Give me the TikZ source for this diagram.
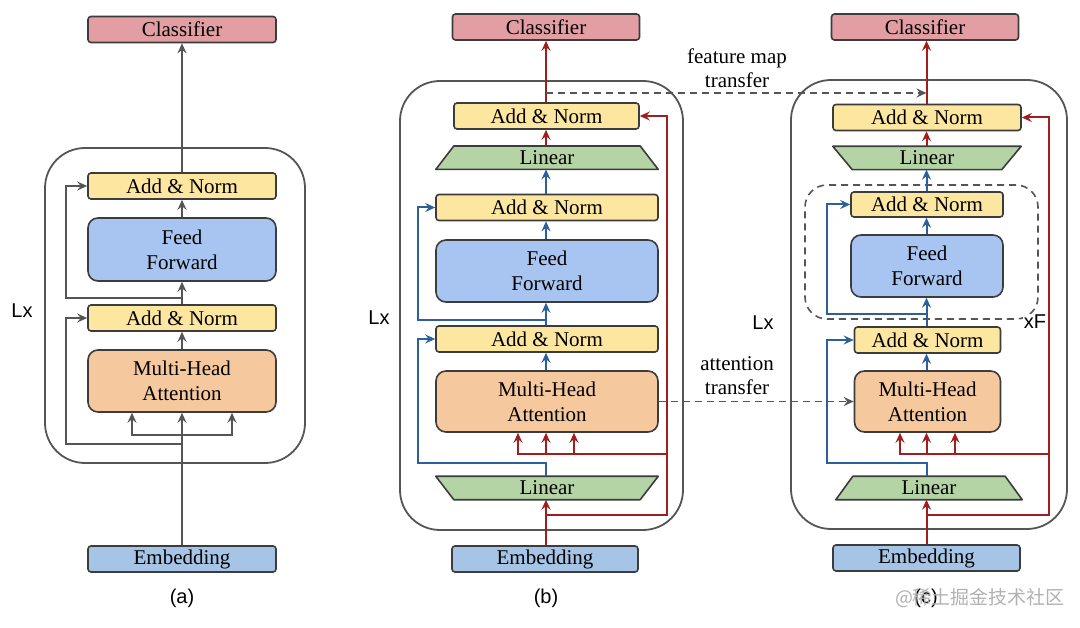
\documentclass[tikz,border=0pt]{standalone}
\usepackage{fontspec}
\setmainfont{Liberation Serif}
\setsansfont{Liberation Sans}
\newfontfamily\cjk{Noto Sans CJK SC}
\usetikzlibrary{arrows.meta,backgrounds,calc}
\definecolor{bordergray}{RGB}{60,60,60}
\definecolor{linegray}{RGB}{85,85,85}
\definecolor{redline}{RGB}{160,30,30}
\definecolor{blueline}{RGB}{45,95,155}
\definecolor{clsfill}{RGB}{226,158,162}
\definecolor{anfill}{RGB}{252,230,160}
\definecolor{fffill}{RGB}{168,196,240}
\definecolor{mhafill}{RGB}{245,200,158}
\definecolor{linfill}{RGB}{180,212,165}
\definecolor{embfill}{RGB}{165,196,230}
\begin{document}
\begin{tikzpicture}[x=1pt,y=-1pt,
  box/.style={draw=bordergray, line width=1.6pt, rounded corners=3pt, inner sep=0pt, align=center,
    font=\fontsize{21}{25}\selectfont},
  thin/.style={box, minimum height=26pt},
  big/.style={box, rounded corners=10pt, minimum height=62pt},
  linnode/.style={inner sep=0pt, minimum height=23pt, font=\fontsize{21}{25}\selectfont},
  trap/.style={draw=bordergray, line width=1.6pt, fill=linfill, line join=round},
  outerbox/.style={draw=linegray, line width=1.8pt, rounded corners=40pt, inner sep=0pt},
  grpbox/.style={draw=linegray, line width=1.6pt, dash pattern=on 7pt off 5pt, rounded corners=22pt, inner sep=0pt},
  tip/.style={-{Stealth[length=10pt,width=9pt,inset=3.5pt]}},
  garr/.style={draw=linegray, line width=2pt, tip},
  rarr/.style={draw=redline, line width=2pt, tip},
  barr/.style={draw=blueline, line width=2pt, tip},
  darr/.style={draw=linegray, line width=1.6pt, dash pattern=on 7pt off 5pt, tip},
  lbl/.style={font=\fontsize{21}{24}\selectfont, align=center, inner sep=0pt},
  slbl/.style={font=\sffamily\fontsize{20}{24}\selectfont, inner sep=0pt}
]
\useasboundingbox (0,0) rectangle (1080,628);
\begin{scope}[on background layer]
\fill[white] (0,0) rectangle (1080,628);
\end{scope}

% ================= (a) =================
\node[outerbox, minimum width=260pt, minimum height=315pt] (aBox) at (175,305.5) {};
\node[thin, fill=clsfill, minimum width=188pt] (aC) at (182,29.5) {Classifier};
\node[thin, fill=anfill, minimum width=188pt] (aAN2) at (182,186) {Add \& Norm};
\node[big, fill=fffill, minimum width=188pt, minimum height=63pt] (aFF) at (182,249.5) {Feed\\Forward};
\node[thin, fill=anfill, minimum width=188pt] (aAN1) at (182,318) {Add \& Norm};
\node[big, fill=mhafill, minimum width=188pt] (aMHA) at (182,381) {Multi-Head\\Attention};
\node[thin, fill=embfill, minimum width=188pt] (aE) at (182,559) {Embedding};
\coordinate (aT) at (182,435);
\coordinate (aR1) at (182,444);
\coordinate (aR2) at (182,298);
\draw[garr] (aE.north) -- (aMHA.south);
\draw[garr] (aT) -| ([xshift=-50pt]aMHA.south);
\draw[garr] (aT) -| ([xshift=50pt]aMHA.south);
\draw[garr] (aR1) -- ++(-116,0) |- (aAN1.west);
\draw[garr] (aMHA.north) -- (aAN1.south);
\draw[garr] (aAN1.north) -- (aFF.south);
\draw[garr] (aR2) -- ++(-116,0) |- (aAN2.west);
\draw[garr] (aFF.north) -- (aAN2.south);
\draw[garr] (aAN2.north) -- (aC.south);
\node[slbl] (aLx) at (22,311) {Lx};
\node[slbl] (aLab) at (182,598) {(a)};

% ================= (b) =================
\node[outerbox, minimum width=283pt, minimum height=449pt] (bBox) at (541.5,305.5) {};
\node[thin, fill=clsfill, minimum width=187pt] (bC) at (546,27) {Classifier};
\node[thin, fill=anfill, minimum width=185pt] (bAN3) at (546.5,116) {Add \& Norm};
\node[linnode, minimum width=222pt] (bL2) at (547,157.7) {Linear};
\node[thin, fill=anfill, minimum width=222pt] (bAN2) at (547,207.5) {Add \& Norm};
\node[big, fill=fffill, minimum width=222pt] (bFF) at (547,271) {Feed\\Forward};
\node[thin, fill=anfill, minimum width=222pt] (bAN1) at (547,339) {Add \& Norm};
\node[big, fill=mhafill, minimum width=222pt, minimum height=61pt] (bMHA) at (547,401.5) {Multi-Head\\Attention};
\node[linnode, minimum width=222pt] (bL1) at (547,488) {Linear};
\node[thin, fill=embfill, minimum width=186pt] (bE) at (545,559) {Embedding};
\begin{scope}[on background layer]
\draw[trap] ([xshift=18pt]bL2.north west) -- ([xshift=-18pt]bL2.north east) -- (bL2.south east) -- (bL2.south west) -- cycle;
\draw[trap] (bL1.north west) -- (bL1.north east) -- ([xshift=-18pt]bL1.south east) -- ([xshift=18pt]bL1.south west) -- cycle;
\end{scope}
\coordinate (bS) at (546,515);
\coordinate (bT) at (667,454);
\coordinate (bB) at (546,463);
\coordinate (bB2) at (546,320);
\draw[rarr] (bE.north -| bS) -- (bL1.south -| bS);
\draw[rarr] (bS) -- ++(121,0) |- (bAN3.east);
\draw[rarr] (bT) -| ([xshift=-28pt]bMHA.south -| bS);
\draw[rarr] (bT) -| (bMHA.south -| bS);
\draw[rarr] (bT) -| ([xshift=28pt]bMHA.south -| bS);
\draw[barr] (bL1.north -| bS) -- (bB) -- ++(-128,0) |- (bAN1.west);
\draw[barr] (bMHA.north -| bS) -- (bAN1.south -| bS);
\draw[barr] (bAN1.north -| bS) -- (bFF.south -| bS);
\draw[barr] (bB2) -- ++(-128,0) |- (bAN2.west);
\draw[barr] (bFF.north -| bS) -- (bAN2.south -| bS);
\draw[barr] (bAN2.north -| bS) -- (bL2.south -| bS);
\draw[rarr] (bL2.north -| bS) -- (bAN3.south -| bS);
\draw[rarr] (bAN3.north -| bS) -- (bC.south -| bS);
\node[slbl] (bLx) at (379,318) {Lx};
\node[slbl] (bLab) at (546,598) {(b)};

% ================= (c) =================
\node[outerbox, minimum width=276pt, minimum height=449pt] (cBox) at (929,304.5) {};
\node[grpbox, minimum width=233pt, minimum height=134pt] (cGrp) at (921.5,252) {};
\node[thin, fill=clsfill, minimum width=187pt] (cC) at (925,27) {Classifier};
\node[thin, fill=anfill, minimum width=188pt] (cAN3) at (927,117.5) {Add \& Norm};
\node[linnode, minimum width=188pt] (cL2) at (927,158) {Linear};
\node[thin, fill=anfill, minimum width=152pt, minimum height=25pt] (cAN2) at (927,204.5) {Add \& Norm};
\node[big, fill=fffill, minimum width=152pt] (cFF) at (927,266) {Feed\\Forward};
\node[thin, fill=anfill, minimum width=146pt] (cAN1) at (927.5,340) {Add \& Norm};
\node[big, fill=mhafill, minimum width=146pt, minimum height=61pt] (cMHA) at (927.5,401.5) {Multi-Head\\Attention};
\node[linnode, minimum width=186pt] (cL1) at (929,488) {Linear};
\node[thin, fill=embfill, minimum width=187pt] (cE) at (926.5,558) {Embedding};
\begin{scope}[on background layer]
\draw[trap] (cL2.north west) -- (cL2.north east) -- ([xshift=-19.5pt]cL2.south east) -- ([xshift=19.5pt]cL2.south west) -- cycle;
\draw[trap] ([xshift=17pt]cL1.north west) -- ([xshift=-17pt]cL1.north east) -- (cL1.south east) -- (cL1.south west) -- cycle;
\end{scope}
\coordinate (cS) at (926.5,515);
\coordinate (cT) at (1049,454);
\coordinate (cB) at (926.5,463);
\coordinate (cB2) at (926.5,314);
\draw[rarr] (cE.north -| cS) -- (cL1.south -| cS);
\draw[rarr] (cS) -- ++(122.5,0) |- (cAN3.east);
\draw[rarr] (cT) -| ([xshift=-26.5pt]cMHA.south -| cS);
\draw[rarr] (cT) -| (cMHA.south -| cS);
\draw[rarr] (cT) -| ([xshift=28.5pt]cMHA.south -| cS);
\draw[barr] (cL1.north -| cS) -- (cB) -- ++(-99.5,0) |- (cAN1.west);
\draw[barr] (cMHA.north -| cS) -- (cAN1.south -| cS);
\draw[barr] (cAN1.north -| cS) -- (cFF.south -| cS);
\draw[barr] (cB2) -- ++(-99.5,0) |- (cAN2.west);
\draw[barr] (cFF.north -| cS) -- (cAN2.south -| cS);
\draw[barr] (cAN2.north -| cS) -- (cL2.south -| cS);
\draw[rarr] (cL2.north -| cS) -- (cAN3.south -| cS);
\draw[rarr] (cAN3.north -| cS) -- (cC.south -| cS);
\node[slbl] (cLx) at (763,323) {Lx};
\node[slbl, fill=white, inner sep=1pt] (cxF) at (1035,322) {xF};
\node[slbl] (cLab) at (926,598) {(c)};

% ================= transfers =================
\coordinate (fmS) at (546,93);
\coordinate (fmE) at (926.5,93);
\draw[darr] (fmS) -- (fmE);
\draw[darr] (bMHA.east) -- (cMHA.west);
\node[lbl] (fmL) at (737,68) {feature map\\transfer};
\node[lbl] (atL) at (737,375.5) {attention\\transfer};

% watermark
\node[font=\cjk\fontsize{19}{22}\selectfont, text=black!30, inner sep=0pt] (wm) at (980,598) {@稀土掘金技术社区};
\end{tikzpicture}
\end{document}
